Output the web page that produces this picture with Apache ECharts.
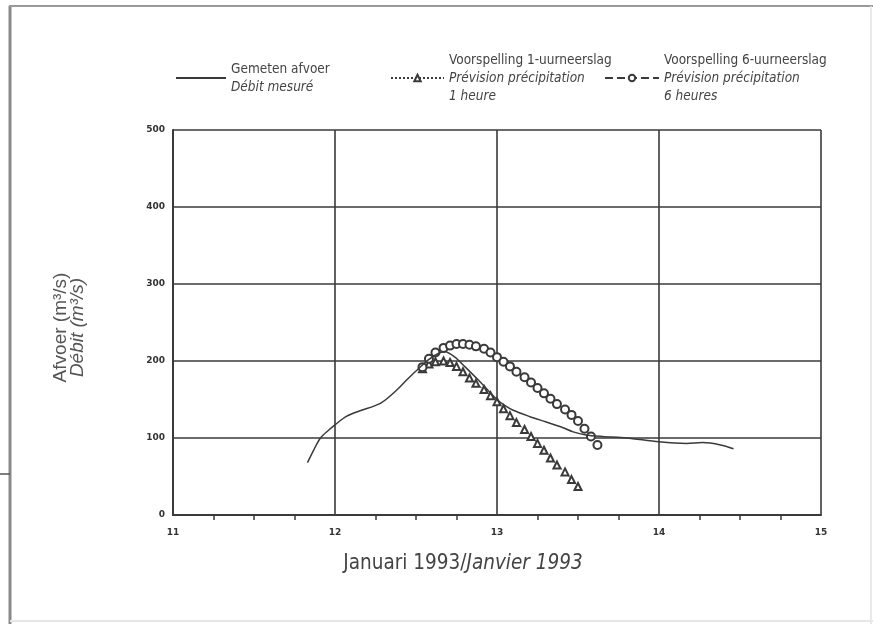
<!DOCTYPE html>
<html>
<head>
<meta charset="utf-8">
<script src="https://cdn.jsdelivr.net/npm/echarts@6/dist/echarts.min.js"></script>
<style>
html,body{margin:0;padding:0;background:#fff;}
#c{width:873px;height:624px;}
</style>
</head>
<body>
<div id="c"></div>
<script>
// ---- data ----
const xTickValues = [11, 12, 13, 14, 15];
const yTickValues = [0, 100, 200, 300, 400, 500];

const measuredX = [11.83, 11.87, 11.91, 11.96, 12.0, 12.07, 12.15, 12.28, 12.38, 12.45, 12.52, 12.58, 12.64, 12.68, 12.74, 12.8, 12.9, 13.0, 13.05, 13.1, 13.2, 13.3, 13.4, 13.47, 13.55, 13.65, 13.8, 14.0, 14.17, 14.27, 14.38, 14.46];
const measuredY = [68, 85, 100, 110, 117, 128, 135, 145, 162, 177, 191, 202, 210, 212, 205, 193, 172, 150, 142, 136, 128, 121, 114, 108, 104, 102, 100, 95, 93, 94, 91, 86];

const fc1X = [12.54, 12.58, 12.62, 12.67, 12.71, 12.75, 12.79, 12.83, 12.87, 12.92, 12.96, 13.00, 13.04, 13.08, 13.12, 13.17, 13.21, 13.25, 13.29, 13.33, 13.37, 13.42, 13.46, 13.50];
const fc1Y = [190, 196, 199, 200, 198, 193, 186, 178, 171, 163, 155, 147, 138, 129, 120, 111, 102, 93, 84, 74, 65, 56, 46, 37];

const fc6X = [12.54, 12.58, 12.62, 12.67, 12.71, 12.75, 12.79, 12.83, 12.87, 12.92, 12.96, 13.00, 13.04, 13.08, 13.12, 13.17, 13.21, 13.25, 13.29, 13.33, 13.37, 13.42, 13.46, 13.50, 13.54, 13.58, 13.62];
const fc6Y = [192, 203, 211, 217, 220, 222, 222, 221, 219, 216, 211, 205, 199, 193, 186, 179, 172, 165, 158, 151, 144, 137, 130, 122, 112, 102, 91];

const seriesNames = ['Gemeten afvoer', 'Voorspelling 1-uurneerslag', 'Voorspelling 6-uurneerslag'];
const legendTexts = {
  'Gemeten afvoer': '{n|Gemeten afvoer}\n{i|Débit mesuré}',
  'Voorspelling 1-uurneerslag': '{n|Voorspelling 1-uurneerslag}\n{i|Prévision précipitation}\n{i|1 heure}',
  'Voorspelling 6-uurneerslag': '{n|Voorspelling 6-uurneerslag}\n{i|Prévision précipitation}\n{i|6 heures}'
};
const yTitle = ['Afvoer (m³/s)', 'Débit (m³/s)'];
const xTitle = ['Januari 1993/', 'Janvier 1993'];

// ---- chart ----
const zip = (xs, ys) => xs.map((x, i) => [x, ys[i]]);
const INK = '#3a3a3a';
const legendFont = 'Liberation Sans Narrow, DejaVu Sans Condensed, sans-serif';
const legendRich = {
  n: {fontFamily: legendFont, fontSize: 13.5, color: '#444', lineHeight: 18},
  i: {fontFamily: legendFont, fontSize: 13.5, color: '#444', fontStyle: 'italic', lineHeight: 18}
};
function mkLegend(name, left, top, w, extra) {
  return Object.assign({
    data: [name], left: left, top: top, padding: 0,
    itemWidth: w, itemHeight: 8,
    formatter: n => legendTexts[n],
    textStyle: {rich: legendRich},
    selectedMode: false
  }, extra || {});
}

const chart = echarts.init(document.getElementById('c'), null, {renderer: 'canvas'});
chart.setOption({
  backgroundColor: '#fff',
  animation: false,
  grid: {left: 173, right: 52, top: 130, bottom: 109},
  legend: [
    mkLegend(seriesNames[0], 175, 62, 50, {itemStyle: {opacity: 0}, lineStyle: {width: 2, color: INK}}),
    mkLegend(seriesNames[1], 390, 53, 53),
    mkLegend(seriesNames[2], 604, 53, 54)
  ],
  xAxis: {
    type: 'value', min: xTickValues[0], max: xTickValues[xTickValues.length - 1], interval: 1,
    axisLine: {show: true, lineStyle: {color: INK, width: 2}},
    axisTick: {show: false},
    minorTick: {show: true, splitNumber: 4, length: 5, lineStyle: {color: INK, width: 1.5}},
    splitLine: {show: true, lineStyle: {color: INK, width: 1.6}},
    axisLabel: {color: '#333', fontFamily: 'DejaVu Sans', fontWeight: 'bold', fontSize: 9, margin: 13},
    name: '{a|' + xTitle[0] + '}{b|' + xTitle[1] + '}',
    nameLocation: 'middle', nameGap: 38,
    nameTextStyle: {padding: [0, 68, 0, 0], rich: {
      a: {fontFamily: legendFont, fontSize: 20.5, color: '#444'},
      b: {fontFamily: legendFont, fontSize: 20.5, color: '#444', fontStyle: 'italic'}
    }}
  },
  yAxis: {
    type: 'value', min: yTickValues[0], max: yTickValues[yTickValues.length - 1], interval: 100,
    axisLine: {show: true, lineStyle: {color: INK, width: 2}},
    axisTick: {show: false},
    splitLine: {show: true, lineStyle: {color: INK, width: 1.6}},
    axisLabel: {color: '#333', fontFamily: 'DejaVu Sans', fontWeight: 'bold', fontSize: 9, margin: 8},
    name: '{a|' + yTitle[0] + '}\n{b|' + yTitle[1] + '}',
    nameLocation: 'middle', nameRotate: 90, nameGap: 87,
    nameTextStyle: {padding: [0, 10, 0, 0], rich: {
      a: {fontFamily: 'Liberation Sans, sans-serif', fontSize: 19, color: '#555', lineHeight: 17},
      b: {fontFamily: 'Liberation Sans, sans-serif', fontSize: 19, color: '#555', fontStyle: 'italic', lineHeight: 17}
    }}
  },
  series: [
    {
      name: seriesNames[1], type: 'line', data: zip(fc1X, fc1Y),
      symbol: 'emptyTriangle', symbolSize: 7,
      itemStyle: {color: INK, borderWidth: 1},
      lineStyle: {color: INK, width: 1, type: 'dotted'}, z: 3
    },
    {
      name: seriesNames[2], type: 'line', data: zip(fc6X, fc6Y),
      symbol: 'emptyCircle', symbolSize: 8,
      itemStyle: {color: INK, borderWidth: 1.2},
      lineStyle: {color: INK, width: 1, type: 'dashed'}, z: 3
    },
    {
      name: seriesNames[0], type: 'line', data: zip(measuredX, measuredY),
      symbol: 'none', smooth: 0.3,
      lineStyle: {color: INK, width: 1.5}, z: 4
    }
  ],
  graphic: [
    {type: 'line', shape: {x1: 10, y1: 6, x2: 10, y2: 624}, style: {stroke: '#8a8a8a', lineWidth: 3}, silent: true},
    {type: 'line', shape: {x1: 9, y1: 6, x2: 873, y2: 6}, style: {stroke: '#9a9a9a', lineWidth: 2}, silent: true},
    {type: 'line', shape: {x1: 0, y1: 474, x2: 10, y2: 474}, style: {stroke: '#555', lineWidth: 1.5}, silent: true},
    {type: 'line', shape: {x1: 871, y1: 6, x2: 871, y2: 624}, style: {stroke: '#e2e2e2', lineWidth: 1.5}, silent: true},
    {type: 'line', shape: {x1: 10, y1: 621, x2: 873, y2: 621}, style: {stroke: '#e6e6e6', lineWidth: 2}, silent: true}
  ]
});
</script>
</body>
</html>
